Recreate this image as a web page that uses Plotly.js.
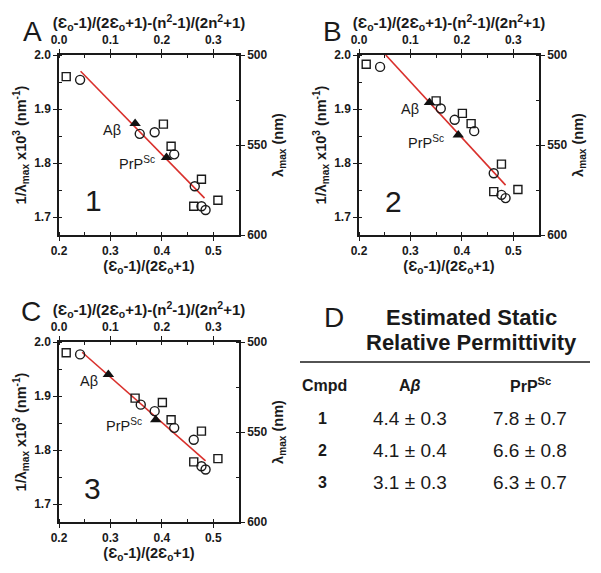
<!DOCTYPE html>
<html>
<head>
<meta charset="utf-8">
<script src="https://cdn.plot.ly/plotly-3.0.1.min.js"></script>
<style>html,body{margin:0;padding:0;background:#fff;}#chart{width:601px;height:573px;}</style>
</head>
<body>
<div id="chart"></div>
<script>
// ---------- Panel 1 (A) ----------
const p1_sq_x = [0.214, 0.403, 0.418, 0.477, 0.462, 0.509];
const p1_sq_y = [1.960, 1.872, 1.831, 1.770, 1.720, 1.731];
const p1_ci_x = [0.241, 0.357, 0.386, 0.424, 0.464, 0.477, 0.485];
const p1_ci_y = [1.954, 1.854, 1.857, 1.816, 1.757, 1.720, 1.713];
const p1_tri_x = [0.348, 0.409];
const p1_tri_y = [1.873, 1.810];
const p1_fit_x = [0.242, 0.483];
const p1_fit_y = [1.970, 1.735];
// ---------- Panel 2 (B) ----------
const p2_sq_x = [0.214, 0.350, 0.401, 0.418, 0.477, 0.462, 0.509];
const p2_sq_y = [1.983, 1.915, 1.892, 1.873, 1.798, 1.747, 1.751];
const p2_ci_x = [0.241, 0.359, 0.386, 0.424, 0.462, 0.477, 0.485];
const p2_ci_y = [1.978, 1.901, 1.880, 1.859, 1.781, 1.741, 1.735];
const p2_tri_x = [0.337, 0.393];
const p2_tri_y = [1.912, 1.852];
const p2_fit_x = [0.252, 0.485];
const p2_fit_y = [2.000, 1.759];
// ---------- Panel 3 (C) ----------
const p3_sq_x = [0.214, 0.348, 0.401, 0.418, 0.477, 0.462, 0.509];
const p3_sq_y = [1.980, 1.896, 1.888, 1.856, 1.835, 1.778, 1.784];
const p3_ci_x = [0.241, 0.359, 0.386, 0.424, 0.462, 0.477, 0.485];
const p3_ci_y = [1.977, 1.884, 1.872, 1.841, 1.819, 1.770, 1.764];
const p3_tri_x = [0.296, 0.388];
const p3_tri_y = [1.940, 1.856];
const p3_fit_x = [0.245, 0.485];
const p3_fit_y = [1.981, 1.780];
// ---------- Table (D) ----------
const cmpds = ['1', '2', '3'];
const abeta_vals = ['4.4 ± 0.3', '4.1 ± 0.4', '3.1 ± 0.3'];
const prp_vals = ['7.8 ± 0.7', '6.6 ± 0.8', '6.3 ± 0.7'];
const tri_labels = ['Aβ', 'PrP<sup>Sc</sup>'];

const W = 601, H = 573;
const FONT = 'Liberation Sans, Arial, sans-serif';
const INK = '#1a1a1a';
const RED = '#d9302c';

const panels = [
  {sqx:p1_sq_x, sqy:p1_sq_y, cix:p1_ci_x, ciy:p1_ci_y, tx:p1_tri_x, ty:p1_tri_y, fx:p1_fit_x, fy:p1_fit_y,
   left:59, top:55, num:'1', lab:[[0.304,1.861],[0.352,1.800]], numPos:[0.268,1.731]},
  {sqx:p2_sq_x, sqy:p2_sq_y, cix:p2_ci_x, ciy:p2_ci_y, tx:p2_tri_x, ty:p2_tri_y, fx:p2_fit_x, fy:p2_fit_y,
   left:359, top:55, num:'2', lab:[[0.300,1.900],[0.330,1.838]], numPos:[0.268,1.728]},
  {sqx:p3_sq_x, sqy:p3_sq_y, cix:p3_ci_x, ciy:p3_ci_y, tx:p3_tri_x, ty:p3_tri_y, fx:p3_fit_x, fy:p3_fit_y,
   left:59, top:342, num:'3', lab:[[0.258,1.927],[0.326,1.847]], numPos:[0.265,1.728]}
];

const traces = [];
const layout = {
  width: W, height: H,
  margin: {l:0, r:0, t:0, b:0},
  paper_bgcolor: '#fff', plot_bgcolor: 'rgba(0,0,0,0)',
  font: {family: FONT, color: INK, size: 12},
  showlegend: false,
  annotations: [], shapes: []
};

const tickfont = {family: FONT, size: 12, weight: 'bold', color: INK};
function tf(sz) { return {family: FONT, size: sz, weight: 'bold', color: INK}; }
function baseAxis(extra) {
  return Object.assign({
    showgrid: false, zeroline: false, showline: true, linecolor: INK, linewidth: 1.5,
    ticks: 'outside', ticklen: 4, tickwidth: 1.3, tickcolor: INK, tickfont: tickfont,
    fixedrange: true, automargin: false
  }, extra);
}

const pw = 180, ph = 180;
panels.forEach((p, i) => {
  const n = i * 2 + 1;      // main axes index
  const m = i * 2 + 2;      // overlay axes index
  const xs = n === 1 ? '' : String(n);
  const xo = String(m);
  const xd = [p.left / W, (p.left + pw) / W];
  const yd = [1 - (p.top + ph) / H, 1 - p.top / H];

  layout['xaxis' + xs] = baseAxis({
    domain: xd, anchor: 'y' + xs, range: [0.2, 0.55], tick0: 0.2, dtick: 0.1, tickformat: '.1f',
    minor: {dtick: 0.05, tick0: 0.2, ticks: 'inside', ticklen: 3, tickcolor: INK},
    title: {text: '(Ɛ<sub>o</sub>-1)/(2Ɛ<sub>o</sub>+1)', font: tf(14.5), standoff: 4}
  });
  layout['yaxis' + xs] = baseAxis({
    domain: yd, anchor: 'x' + xs, range: [1.6667, 2.0], tick0: 1.7, dtick: 0.1, tickformat: '.1f',
    minor: {dtick: 0.05, tick0: 1.7, ticks: 'inside', ticklen: 3, tickcolor: INK},
    title: {text: '1/λ<sub>max</sub> x10<sup>3</sup> (nm<sup>-1</sup>)', font: tf(14.5), standoff: 4}
  });
  layout['xaxis' + xo] = baseAxis({
    overlaying: 'x' + xs, anchor: 'y' + xs, side: 'top', range: [0.0, 0.35], tick0: 0, dtick: 0.1, tickformat: '.1f',
    minor: {dtick: 0.05, tick0: 0, ticks: 'inside', ticklen: 3, tickcolor: INK},
    title: {text: '(Ɛ<sub>o</sub>-1)/(2Ɛ<sub>o</sub>+1)-(n<sup>2</sup>-1)/(2n<sup>2</sup>+1)', font: tf(15), standoff: 0}
  });
  layout['yaxis' + xo] = baseAxis({
    overlaying: 'y' + xs, anchor: 'x' + xs, side: 'right', range: [600, 500], tick0: 500, dtick: 50,
    minor: {dtick: 25, tick0: 500, ticks: 'inside', ticklen: 3, tickcolor: INK},
    title: {text: 'λ<sub>max</sub> (nm)', font: tf(14.5), standoff: 6}
  });

  const xa = 'x' + xs, ya = 'y' + xs;
  traces.push({x: [], y: [], xaxis: 'x' + xo, yaxis: 'y' + xo, type: 'scatter', mode: 'markers', hoverinfo: 'skip'});
  traces.push({x: p.fx, y: p.fy, xaxis: xa, yaxis: ya, type: 'scatter', mode: 'lines',
               line: {color: RED, width: 1.6}, hoverinfo: 'skip'});
  traces.push({x: p.sqx, y: p.sqy, xaxis: xa, yaxis: ya, type: 'scatter', mode: 'markers',
               marker: {symbol: 'square-open', size: 8, color: INK, line: {width: 1.4, color: INK}}});
  traces.push({x: p.cix, y: p.ciy, xaxis: xa, yaxis: ya, type: 'scatter', mode: 'markers',
               marker: {symbol: 'circle-open', size: 9, color: INK, line: {width: 1.4, color: INK}}});
  traces.push({x: p.tx, y: p.ty, xaxis: xa, yaxis: ya, type: 'scatter', mode: 'markers',
               marker: {symbol: 'triangle-up', size: 10, color: '#111'}});

  tri_labels.forEach((t, k) => {
    layout.annotations.push({xref: xa, yref: ya, x: p.lab[k][0], y: p.lab[k][1], text: t, showarrow: false,
      xanchor: 'center', yanchor: 'middle', font: {family: FONT, size: 14.5, color: INK}});
  });
  layout.annotations.push({xref: xa, yref: ya, x: p.numPos[0], y: p.numPos[1], text: p.num, showarrow: false,
    xanchor: 'center', yanchor: 'middle', font: {family: FONT, size: 30, color: INK}});
});

// Panel letters
[['A', 32, 31], ['B', 332, 31], ['C', 31, 311], ['D', 334, 317]].forEach(([t, px, py]) => {
  layout.annotations.push({xref: 'paper', yref: 'paper', x: px / W, y: 1 - py / H, text: t, showarrow: false,
    xanchor: 'center', yanchor: 'middle', font: {family: FONT, size: 28, color: INK}});
});

// Table D
function ann(text, px, py, size, bold) {
  layout.annotations.push({xref: 'paper', yref: 'paper', x: px / W, y: 1 - py / H, text: text, showarrow: false,
    xanchor: 'center', yanchor: 'middle', font: {family: FONT, size: size, color: INK, weight: bold ? 'bold' : 'normal'}});
}
ann('Estimated Static', 471, 317, 22, true);
ann('Relative Permittivity', 471, 342, 22, true);
layout.shapes.push({type: 'line', xref: 'paper', yref: 'paper', x0: 300 / W, x1: 590 / W,
  y0: 1 - 362 / H, y1: 1 - 362 / H, line: {color: INK, width: 1.5}});
ann('Cmpd', 324, 385, 16, true);
ann('A<i>β</i>', 410, 385, 16, true);
ann('PrP<sup>Sc</sup>', 530, 385, 16, true);
const rowY = [418, 450, 482];
cmpds.forEach((c, i) => {
  ann(c, 322, rowY[i], 16, true);
  ann(abeta_vals[i], 410, rowY[i], 19, false);
  ann(prp_vals[i], 530, rowY[i], 19, false);
});

Plotly.newPlot('chart', traces, layout, {displayModeBar: false});
</script>
</body>
</html>
